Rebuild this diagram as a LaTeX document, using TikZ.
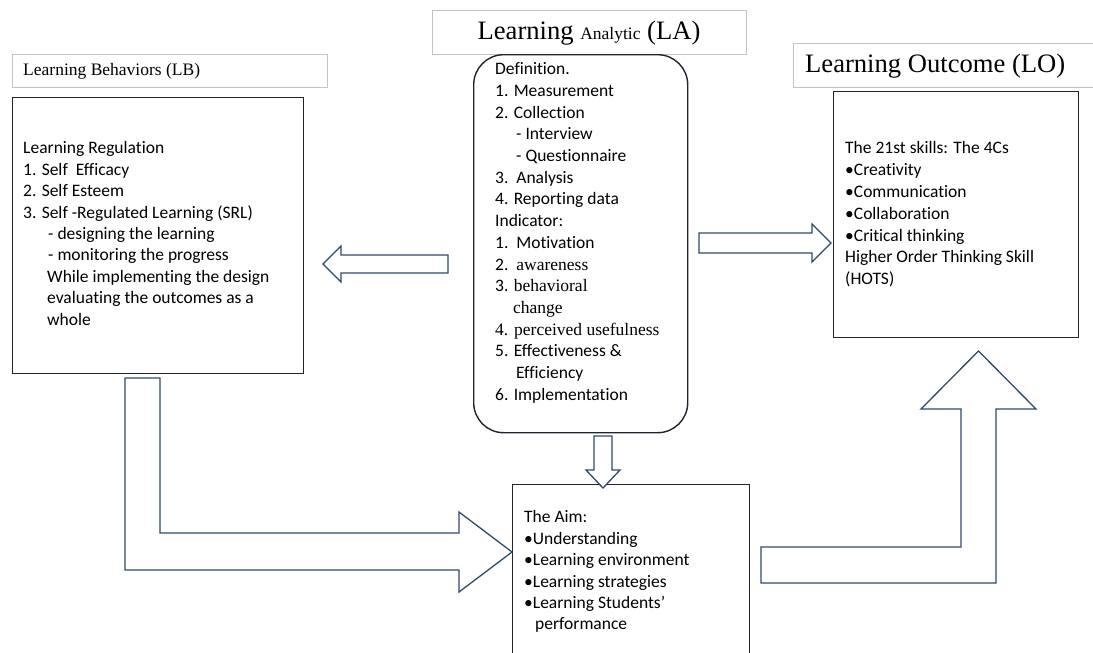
\documentclass[tikz,border=0pt]{standalone}
\usepackage{fontspec}
\setmainfont[Ligatures=NoCommon]{Carlito}
\newfontfamily\seriffont{Liberation Serif}

\definecolor{arrowblue}{HTML}{2F4A6E}
\definecolor{boxline}{HTML}{1E2530}
\definecolor{titleline}{HTML}{C4C4C4}

\tikzset{
  titlebox/.style={draw=titleline, line width=0.9pt, fill=white, inner sep=0pt, anchor=north west},
  panel/.style={draw=boxline, line width=1.4pt, inner sep=0pt, anchor=north west},
  blockarrow/.style={draw=arrowblue, fill=white, line width=1.3pt, line join=miter},
  bodytext/.style={align=left, inner sep=0pt, anchor=north west},
  titletext/.style={inner sep=0pt},
}

\begin{document}
\begin{tikzpicture}[x=1pt, y=-1pt]
\useasboundingbox (0,0) rectangle (1093,653);

% title strips
\node[titlebox, minimum width=315, minimum height=33] (lbtitle) at (12,54) {};
\node[titlebox, minimum width=314, minimum height=44] (latitle) at (432,10) {};
\node[titlebox, minimum width=310, minimum height=44] (lotitle) at (793,43) {};

% main panels
\node[panel, minimum width=291, minimum height=276] (lb) at (12,97) {};
\node[panel, rounded corners=30pt, minimum width=214, minimum height=378] (la) at (473,54) {};
\node[panel, minimum width=245, minimum height=246] (lo) at (833,91) {};
\node[panel, minimum width=237, minimum height=190] (aim) at (512,484) {};

% block arrows
\draw[blockarrow] (448,255) -- (341,255) -- (341,246) -- (323,264) -- (341,282)
  -- (341,273) -- (448,273) -- cycle;
\draw[blockarrow] (699,233) -- (812,233) -- (812,224) -- (831,243) -- (812,262)
  -- (812,253) -- (699,253) -- cycle;
\draw[blockarrow] (594,436) -- (612,436) -- (612,470) -- (620,470) -- (603,488)
  -- (586,470) -- (594,470) -- cycle;
\draw[blockarrow] (125,378) -- (160,378) -- (160,533) -- (459,533) -- (459,512)
  -- (512,552) -- (459,592) -- (459,570) -- (125,570) -- cycle;
\draw[blockarrow] (761,547) -- (961,547) -- (961,409) -- (921,409) -- (978.5,351)
  -- (1036,409) -- (996,409) -- (996,583) -- (761,583) -- cycle;

% titles
\node[titletext, anchor=west] (lbhead) at (23,71)
  {\seriffont\fontsize{17.5}{20}\selectfont Learning Behaviors (LB)};
\node[titletext] (lahead) at (589,33)
  {\seriffont\fontsize{26.6}{30}\selectfont Learning {\fontsize{17.5}{20}\selectfont Analytic} (LA)};
\node[titletext, anchor=west] (lohead) at (805,66)
  {\seriffont\fontsize{26.6}{30}\selectfont Learning Outcome (LO)};

% panel contents
\node[bodytext, font=\fontsize{17.5}{21.4}\selectfont] (lbtext) at (23,141.5) {%
  Learning Regulation\\
  1. Self\ \ Efficacy\\
  2. Self Esteem\\
  3. Self -Regulated Learning (SRL)\\
  \hspace*{25pt}- designing the learning\\
  \hspace*{25pt}- monitoring the progress\\
  \hspace*{24pt}While implementing the design\\
  \hspace*{24pt}evaluating the outcomes as a\\
  \hspace*{24pt}whole};

\node[bodytext, font=\fontsize{17.5}{21.7}\selectfont] (latext) at (495,62.5) {%
  Definition.\\
  1. Measurement\\
  2. Collection\\
  \hspace*{21pt}- Interview\\
  \hspace*{21pt}- Questionnaire\\
  3.\ \ Analysis\\
  4. Reporting data\\
  Indicator:\\
  1.\ \ Motivation\\
  2.\ \ {\seriffont awareness}\\
  3. {\seriffont behavioral}\\
  \hspace*{18pt}{\seriffont change}\\
  {\seriffont 4. perceived usefulness}\\
  5. Effectiveness \&\\
  \hspace*{21pt}Efficiency\\
  6. Implementation};

\node[bodytext, font=\fontsize{17.5}{21.8}\selectfont] (lotext) at (845,141.5) {%
  The 21st skills: The 4Cs\\
  •Creativity\\
  •Communication\\
  •Collaboration\\
  •Critical thinking\\
  Higher Order Thinking Skill\\
  (HOTS)};

\node[bodytext, font=\fontsize{17.5}{21.4}\selectfont] (aimtext) at (524,510.5) {%
  The Aim:\\
  •Understanding\\
  •Learning environment\\
  •Learning strategies\\
  •Learning Students’\\
  \hspace*{11pt}performance};
\end{tikzpicture}
\end{document}
